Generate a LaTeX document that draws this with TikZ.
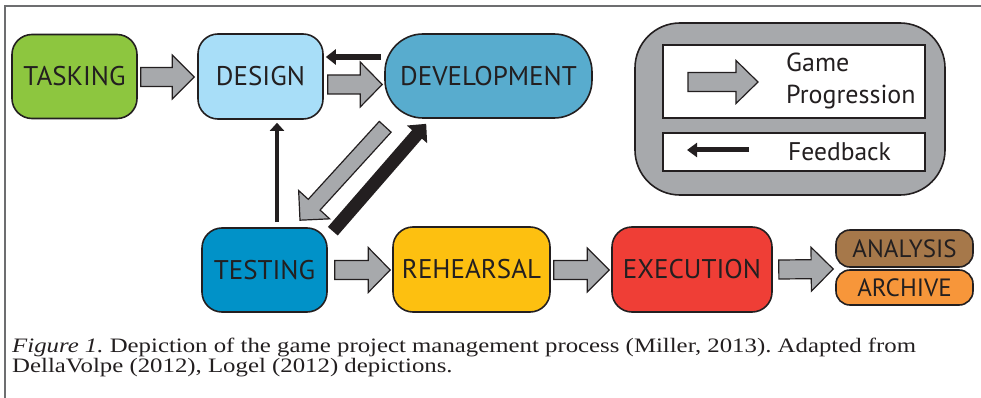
\documentclass[tikz,border=0pt]{standalone}
\usepackage{fontspec}
\setmainfont{Liberation Serif}
\newfontfamily\capfont[FakeStretch=1.21]{Liberation Serif}
\newfontfamily\boxfont{PT Sans}
\usetikzlibrary{calc,arrows.meta}
\definecolor{ink}{HTML}{231F20}
\definecolor{cgreen}{HTML}{8DC63F}
\definecolor{clblue}{HTML}{A8DEF8}
\definecolor{cdev}{HTML}{58ACCE}
\definecolor{ctest}{HTML}{0192C8}
\definecolor{creh}{HTML}{FDC010}
\definecolor{cexe}{HTML}{EF3E36}
\definecolor{cana}{HTML}{A6784A}
\definecolor{carc}{HTML}{F7963A}
\definecolor{cgray}{HTML}{A7A9AC}
\definecolor{cframe}{HTML}{6D6E70}
\tikzset{
  stage/.style={draw=ink, line width=1.6pt, rounded corners=20pt, text=ink,
    font=\boxfont\fontsize{27}{30}\selectfont, inner sep=0pt},
  smallstage/.style={stage, rounded corners=14pt, font=\boxfont\fontsize{25}{28}\selectfont},
  barrowstyle/.style={draw=ink, fill=cgray, line width=1.2pt, line join=miter},
  fbarrow/.style={draw=ink, line width=#1},
  legtext/.style={text=ink, font=\boxfont\fontsize{26}{32}\selectfont, inner sep=0pt, anchor=west, align=left},
  captext/.style={anchor=base west, inner sep=0pt, font=\capfont\fontsize{20.5}{22}\selectfont, text=ink},
}
% block arrow: start, end, shaft half width, head half width, head length
\newcommand\blockarr[5]{%
  \coordinate (ba-h) at ($(#2)!#5pt!(#1)$);
  \draw[barrowstyle] ($(#1)!#3pt!90:(#2)$) -- ($(ba-h)!#3pt!90:(#2)$) -- ($(ba-h)!#4pt!90:(#2)$)
    -- (#2) -- ($(ba-h)!#4pt!-90:(#2)$) -- ($(ba-h)!#3pt!-90:(#2)$) -- ($(#1)!#3pt!-90:(#2)$) -- cycle;
}
\begin{document}
\begin{tikzpicture}[x=1pt,y=-1pt]
\useasboundingbox (0,0) rectangle (981,398);
% frame
\draw[cframe, line width=2pt] (5,398) -- (5,6) -- (981,6);

% stages
\node[stage, fill=cgreen, minimum width=125pt, minimum height=84pt] (tasking) at (74.5,76.5) {TASKING};
\node[stage, fill=clblue, minimum width=125pt, minimum height=85pt] (design) at (260.5,76.5) {DESIGN};
\node[stage, fill=cdev, rounded corners=38pt, minimum width=207pt, minimum height=84pt] (dev) at (488.5,76) {DEVELOPMENT};
\node[stage, fill=ctest, minimum width=125pt, minimum height=84pt] (testing) at (264.5,270) {TESTING};
\node[stage, fill=creh, minimum width=157pt, minimum height=85pt] (rehearsal) at (471.5,269.5) {REHEARSAL};
\node[stage, fill=cexe, minimum width=160pt, minimum height=85pt] (execution) at (692,269.5) {EXECUTION};
\node[smallstage, fill=cana, minimum width=137pt, minimum height=37pt] (analysis) at (904.5,248.5) {ANALYSIS};
\node[smallstage, fill=carc, minimum width=137pt, minimum height=35pt] (archive) at (904.5,287.5) {ARCHIVE};

% legend
\node[draw=ink, line width=1.6pt, fill=cgray, rounded corners=45pt, minimum width=310pt, minimum height=172pt, inner sep=0pt] (legend) at (790,109) {};
\node[draw=ink, line width=1.4pt, fill=white, minimum width=262pt, minimum height=73pt, inner sep=0pt] (leg1) at (794,81.5) {};
\node[draw=ink, line width=1.4pt, fill=white, minimum width=262pt, minimum height=38pt, inner sep=0pt] (leg2) at (794,152) {};
\node[legtext] (legprog) at (786,81) {Game\\Progression};
\node[legtext, font=\boxfont\fontsize{25.5}{30}\selectfont] (legfb) at (788,152) {Feedback};
\coordinate (lgs) at ([shift={(-106,0.5)}]leg1.center);
\coordinate (lge) at ([shift={(-36,0.5)}]leg1.center);
\blockarr{lgs}{lge}{9.5}{21.5}{22}
\coordinate (lfs) at ([shift={(-45,-2)}]leg2.center);
\coordinate (lfe) at ([shift={(-107,-2)}]leg2.center);
\draw[fbarrow=5pt, -{Triangle[length=10pt,width=14pt]}] (lfs) -- (lfe);

% progression arrows
\coordinate (a1s) at ([shift={(3,0.5)}]tasking.east);
\coordinate (a1e) at ([shift={(-3,0.5)}]design.west);
\blockarr{a1s}{a1e}{9.5}{22}{22}
\coordinate (a2s) at ([shift={(4,8)}]design.east);
\coordinate (a2e) at ([shift={(-2,8.5)}]dev.west);
\blockarr{a2s}{a2e}{9.5}{22.5}{22}
\coordinate (a3s) at ([shift={(1,8)}]dev.south west);
\coordinate (a3e) at ([shift={(35.5,-7)}]testing.north);
\blockarr{a3s}{a3e}{8}{21}{21}
\coordinate (a4s) at ([shift={(7,0)}]testing.east);
\coordinate (a4e) at ([shift={(-2,0.5)}]rehearsal.west);
\blockarr{a4s}{a4e}{9.5}{22.5}{22}
\coordinate (a5s) at ([shift={(3,0.5)}]rehearsal.east);
\coordinate (a5e) at ([shift={(-2,0.5)}]execution.west);
\blockarr{a5s}{a5e}{9.5}{22}{22}
\coordinate (a6s) at ([shift={(6,0)}]execution.east);
\coordinate (a6e) at ([shift={(-2,0.5)}]$(analysis.south west)!0.5!(archive.north west)$);
\blockarr{a6s}{a6e}{9.5}{22}{22}

% feedback arrows
\coordinate (f1s) at ([shift={(-3,-19)}]dev.west);
\coordinate (f1e) at ([shift={(2,-19.5)}]design.east);
\draw[fbarrow=6pt, -{Triangle[length=10pt,width=15pt]}] (f1s) -- (f1e);
\coordinate (f2s) at ([shift={(12.5,-5)}]testing.north);
\coordinate (f2e) at ([shift={(16.5,3)}]design.south);
\draw[fbarrow=4pt, -{Triangle[length=8pt,width=14pt]}] (f2s) -- (f2e);
\coordinate (f3s) at ([shift={(5,4)}]testing.north east);
\coordinate (f3e) at ([shift={(42,5)}]dev.south west);
\draw[fbarrow=13pt, -{Triangle[length=14pt,width=26pt]}] (f3s) -- (f3e);

% caption
\node[captext] (cap1) at (12,352) {\frenchspacing\textit{Figure 1.} Depiction of the game project management process (Miller, 2013). Adapted from};
\node[captext] (cap2) at (12,372) {DellaVolpe (2012), Logel (2012) depictions.};
\end{tikzpicture}
\end{document}
